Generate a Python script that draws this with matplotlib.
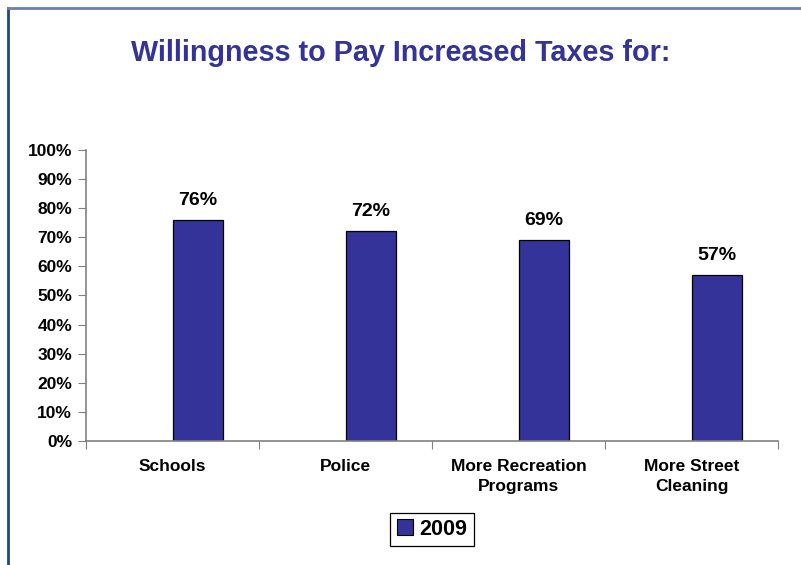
import numpy as np
import matplotlib.pyplot as plt
from matplotlib.lines import Line2D

categories = ["Schools", "Police", "More Recreation\nPrograms", "More Street\nCleaning"]
values_2009 = [76, 72, 69, 57]
yticks = [0, 10, 20, 30, 40, 50, 60, 70, 80, 90, 100]
series_name = "2009"

plt.rcParams['font.family'] = ['Liberation Sans', 'DejaVu Sans']
plt.rcParams['font.weight'] = 'bold'

fig = plt.figure(figsize=(8.01, 5.65), dpi=100)
ax = fig.add_axes([0.1074, 0.2195, 0.8639, 0.515])

x = np.arange(len(categories))
bars = ax.bar(x, values_2009, width=0.29, align='edge', color='#333399',
              edgecolor='black', linewidth=0.9)

for b, v in zip(bars, values_2009):
    ax.annotate(f"{v}%", (b.get_x() + b.get_width() / 2, v), xytext=(0, 8),
                textcoords='offset points', ha='center', va='bottom',
                fontsize=14, fontweight='bold')

ax.set_xlim(-0.5, len(categories) - 0.5)
ax.set_ylim(0, 100)
ax.set_yticks(yticks)
ax.set_yticklabels([f"{t}%" for t in yticks], fontsize=12.5, fontweight='bold')

# category boundary ticks, labels on the minor-free centre positions
ax.set_xticks(np.arange(len(categories) + 1) - 0.5)
ax.set_xticklabels([])
ax.set_xticks(x, minor=True)
ax.set_xticklabels(categories, minor=True, fontsize=12.5, fontweight='bold',
                   linespacing=1.45)
ax.tick_params(axis='x', which='minor', length=0, pad=13)
ax.tick_params(axis='x', which='major', length=6, color='#808080')
ax.tick_params(axis='y', length=6, color='#808080', pad=4)

for s in ['top', 'right']:
    ax.spines[s].set_visible(False)
for s in ['left', 'bottom']:
    ax.spines[s].set_color('#808080')
    ax.spines[s].set_linewidth(1.2)

fig.text(0.5, 0.906, "Willingness to Pay Increased Taxes for:", ha='center',
         va='center', fontsize=20.7, fontweight='bold', color='#333399')

handle = Line2D([], [], marker='s', linestyle='none', markersize=11,
                markerfacecolor='#333399', markeredgecolor='black',
                markeredgewidth=0.8)
leg = fig.legend([handle], [series_name], loc='center', bbox_to_anchor=(0.539, 0.0628),
                 fancybox=False, edgecolor='black', framealpha=1,
                 prop={'size': 15.5, 'weight': 'bold'}, handlelength=0.8,
                 handletextpad=0.3, borderpad=0.3, borderaxespad=0)
leg.get_frame().set_linewidth(0.9)

# outer chart border (top and left visible)
fig.add_artist(Line2D([8 / 801, 8 / 801], [0, 1 - 8 / 565], color='#1F497D',
                      linewidth=2, transform=fig.transFigure))
fig.add_artist(Line2D([8 / 801, 1], [1 - 8 / 565, 1 - 8 / 565], color='#6A82AE',
                      linewidth=2, transform=fig.transFigure))

fig.savefig("out.png", dpi=100)
